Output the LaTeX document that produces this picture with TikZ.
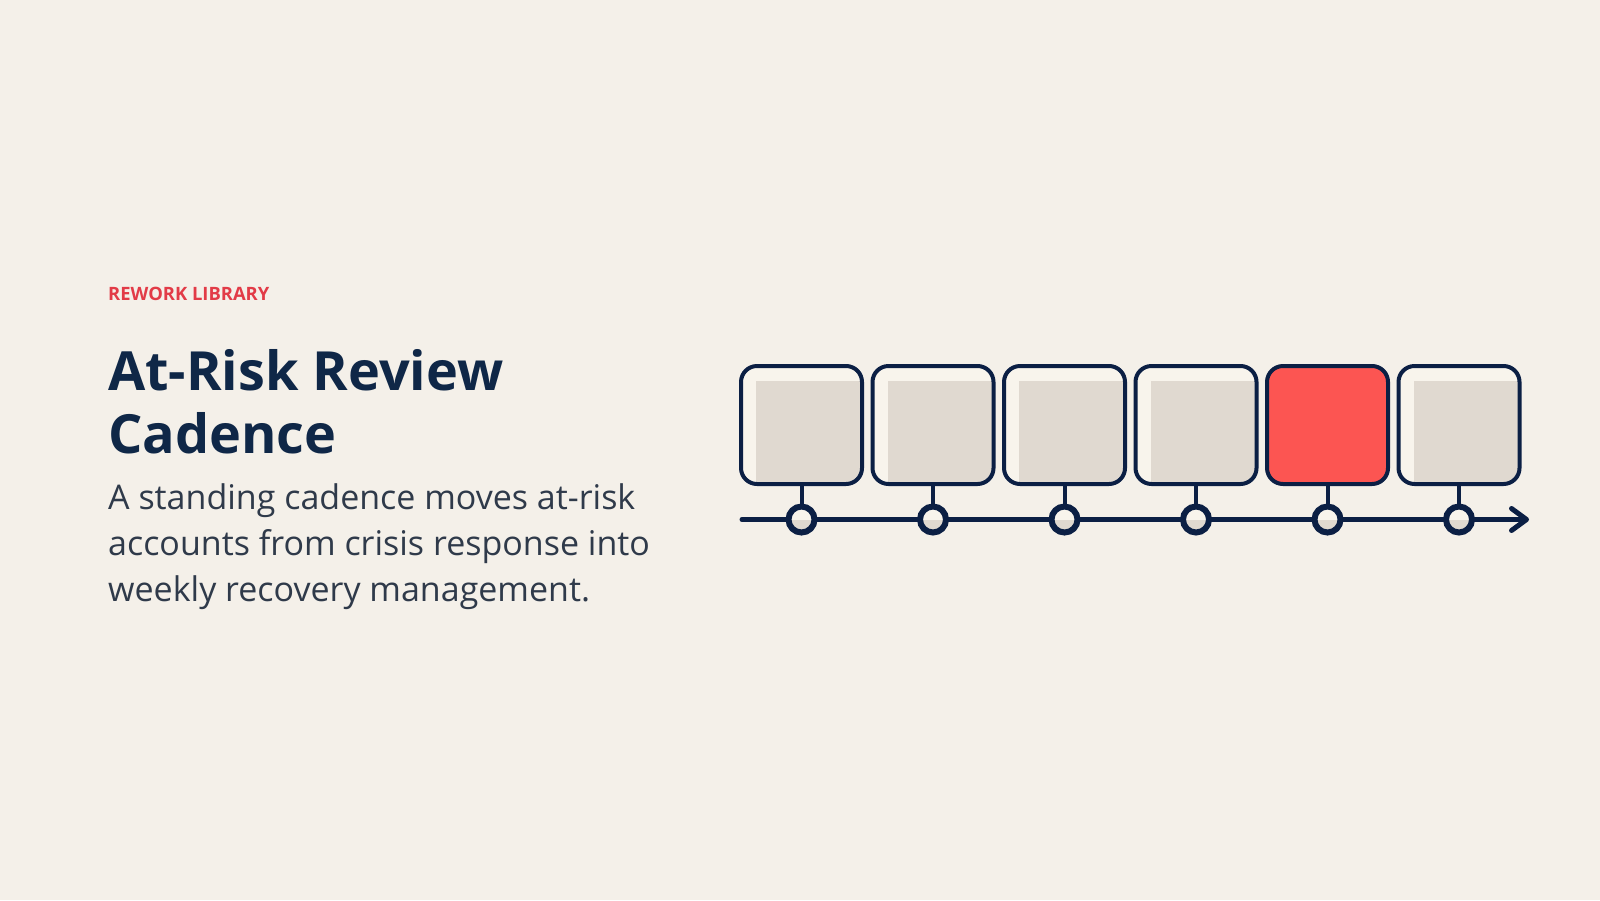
\documentclass[tikz,border=0pt]{standalone}
\usepackage{fontspec}
\setmainfont{Open Sans}
\usepackage{xcolor}
\usetikzlibrary{arrows.meta,positioning}
\definecolor{paper}{HTML}{F4F0E9}
\definecolor{cream}{HTML}{F8F4EC}
\definecolor{stone}{HTML}{E0D9D0}
\definecolor{ink}{HTML}{0B1F44}
\definecolor{headline}{HTML}{0F2747}
\definecolor{body}{HTML}{2F3A4A}
\definecolor{accent}{HTML}{E23B47}
\definecolor{alert}{HTML}{FC5552}

\begin{document}
\begin{tikzpicture}[x=1pt, y=-1pt,
  card/.style={draw=ink, line width=4pt, rounded corners=16pt, minimum width=121pt, minimum height=118pt, inner sep=0pt},
  inset/.style={path picture={\fill[#1, sharp corners] ([xshift=15pt,yshift=-15pt]path picture bounding box.north west) rectangle (path picture bounding box.south east);}},
  tick/.style={circle, draw=ink, line width=6pt, minimum size=26pt, inner sep=0pt, fill=cream,
    path picture={\fill[stone] (path picture bounding box.west) rectangle (path picture bounding box.south east);}},
  wire/.style={draw=ink, line width=4pt},
  axis/.style={draw=ink, line width=5pt, line cap=round, -{Straight Barb[length=15pt,width=22pt,round]}},
  lab/.style={anchor=base west, inner sep=0pt}
]
\fill[paper] (0,0) rectangle (1600,900);

% heading
\node[lab, text=accent, font=\bfseries\fontsize{18.4}{20}\selectfont] (kicker) at (108,300.5) {REWORK LIBRARY};
\node[lab, text=headline, font=\bfseries\fontsize{54}{60}\selectfont] (title1) at (108,390) {At-Risk Review};
\node[lab, text=headline, font=\bfseries\fontsize{54}{60}\selectfont] (title2) at (108,453) {Cadence};
\node[lab, text=body, font=\fontsize{34}{38}\selectfont] (sub1) at (108,509) {A standing cadence moves at-risk};
\node[lab, text=body, font=\fontsize{34}{38}\selectfont] (sub2) at (108,555) {accounts from crisis response into};
\node[lab, text=body, font=\fontsize{34}{38}\selectfont] (sub3) at (108,601.5) {weekly recovery management.};

% review cards
\foreach \i/\base/\tone in {0/cream/stone,1/cream/stone,2/cream/stone,3/cream/stone,4/alert/alert,5/cream/stone} {
  \node[card, fill=\base, inset=\tone] (c\i) at ({801.5+131.5*\i},425) {};
}

% timeline
\coordinate (start) at (742,519.5);
\coordinate (stop) at (1529,519.5);
\draw[axis] (start) -- (stop);
\foreach \i in {0,...,5} {
  \node[tick] (t\i) at ({801.5+131.5*\i},519.5) {};
  \draw[wire] (c\i.south) -- (t\i.north);
}
\end{tikzpicture}
\end{document}
